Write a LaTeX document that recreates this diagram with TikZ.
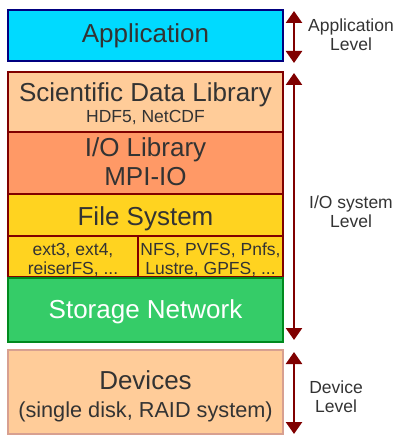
\documentclass[tikz,border=0pt]{standalone}
\usepackage{fontspec}
\setmainfont{Liberation Sans}
\usetikzlibrary{arrows.meta}
\definecolor{appfill}{HTML}{00DAFF}
\definecolor{appdraw}{HTML}{000080}
\definecolor{peach}{HTML}{FFCC99}
\definecolor{salmon}{HTML}{FF9966}
\definecolor{gold}{HTML}{FFD320}
\definecolor{green1}{HTML}{35CC68}
\definecolor{green2}{HTML}{008A1E}
\definecolor{darkred}{HTML}{800000}
\definecolor{devdraw}{HTML}{D8A090}
\definecolor{txt}{HTML}{333333}
\tikzset{
  layer/.style={line width=2pt, text=txt, align=center, inner sep=0pt},
  big/.style={font=\fontsize{26}{29}\selectfont},
  small/.style={font=\fontsize{17.5}{20}\selectfont},
  levelarrow/.style={draw=darkred, line width=2.5pt, {Triangle[width=16pt,length=12pt]}-{Triangle[width=16pt,length=12pt]}},
  downarrow/.style={draw=darkred, line width=2.5pt, -{Triangle[width=16pt,length=12pt]}},
  lbl/.style={text=txt, align=center, font=\fontsize{17.5}{19.5}\selectfont, inner sep=0pt}
}
\begin{document}
\begin{tikzpicture}[x=1pt,y=-1pt]
\useasboundingbox (0,0) rectangle (396,435);
% boxes
\draw[layer, fill=appfill, draw=appdraw] (8,10) rectangle (283,61);
\node[layer, big] (app) at (145.5,35.5) {Application};

\draw[layer, fill=peach, draw=darkred] (8,72) rectangle (283,132);
\node[layer, big, anchor=base] (sdl) at (145.5,102) {Scientific Data Library};
\node[layer, small, anchor=base] (hdf) at (145.5,123) {HDF5, NetCDF};

\draw[layer, fill=salmon, draw=darkred] (8,132) rectangle (283,194);
\node[layer, big, anchor=base] (iol) at (145.5,157) {I/O Library};
\node[layer, big, anchor=base] (mpi) at (145.5,186) {MPI-IO};

\draw[layer, fill=gold, draw=darkred] (8,194) rectangle (283,236);
\node[layer, big, anchor=base] (fs) at (145.5,225) {File System};

\draw[layer, fill=gold, draw=darkred] (8,236) rectangle (138,277);
\draw[layer, fill=gold, draw=darkred] (138,236) rectangle (283,277);
\node[layer, small, anchor=base] (lfs1) at (73,255) {ext3, ext4,};
\node[layer, small, anchor=base] (lfs2) at (73,274) {reiserFS, ...};
\node[layer, small, anchor=base] (pfs1) at (210.5,255) {NFS, PVFS, Pnfs,};
\node[layer, small, anchor=base] (pfs2) at (210.5,274) {Lustre, GPFS, ...};

\draw[layer, fill=green1, draw=green2] (8,278) rectangle (283,342);
\node[layer, big, text=white, anchor=base] (sn) at (145.5,318) {Storage Network};

\draw[layer, line width=1.2pt, fill=peach, draw=devdraw] (8,350) rectangle (283,434);
\node[layer, big, anchor=base] (dev) at (145.5,389) {Devices};
\node[layer, font=\fontsize{21.7}{24}\selectfont, anchor=base] (devd) at (145.5,417) {(single disk, RAID system)};

% arrows
\coordinate (a1) at (294,11);
\coordinate (a2) at (294,63);
\coordinate (b1) at (294,73);
\coordinate (b2) at (294,340);
\coordinate (c1) at (294,352);
\coordinate (c2) at (294,434);
\draw[levelarrow] (a1) -- (a2);
\draw[levelarrow] (b1) -- (b2);
\draw[levelarrow] (c1) -- (c2);

% labels
\node[lbl, anchor=base] (l1a) at (351,32) {Application};
\node[lbl, anchor=base] (l1b) at (351,51) {Level};
\node[lbl, anchor=base] (l2a) at (351,208) {I/O system};
\node[lbl, anchor=base] (l2b) at (351,227) {Level};
\node[lbl, anchor=base] (l3a) at (336,393) {Device};
\node[lbl, anchor=base] (l3b) at (336,412) {Level};
\end{tikzpicture}
\end{document}
